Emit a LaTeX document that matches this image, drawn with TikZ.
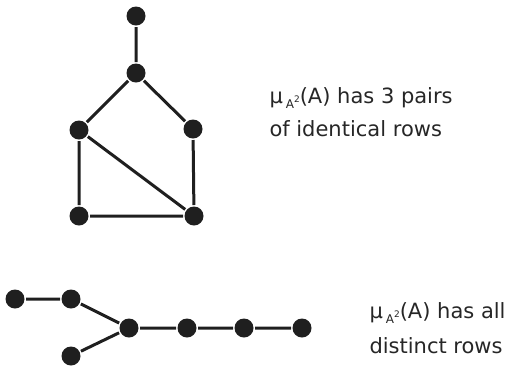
\documentclass[tikz,border=0pt]{standalone}
\usepackage{fontspec}
\setmainfont{DejaVu Sans}
\newcommand{\muAsq}{μ\hspace{3pt}\raisebox{-5pt}{\fontsize{12}{12}\selectfont A\raisebox{6pt}{\fontsize{9}{9}\selectfont 2}}}
\begin{document}
\begin{tikzpicture}[x=1pt,y=-1pt,line width=3pt,
  vtx/.style={circle,fill=black!88,inner sep=0pt,minimum size=19pt},
  txt/.style={anchor=base west,inner sep=0pt,font=\fontsize{21}{21}\selectfont,text=black!85}]
     \useasboundingbox (0,0) rectangle (506,368);
     % first graph
     \node[vtx] (a) at (136,16){};
     \node[vtx] (b) at (136,73){};
     \node[vtx] (c) at (79,130){};
     \node[vtx] (d) at (193,129){};
     \node[vtx] (e) at (79,216){};
     \node[vtx] (f) at (194,216){};
     \draw[black!88] (a) -- (b) (b) -- (c) (b) -- (d) (c) -- (e) (c) -- (f) (d) -- (f) (e) -- (f);
     \node[txt] (t1) at (268,103){\muAsq(A) has 3 pairs};
     \node[txt] (t2) at (268,136){of identical rows};
     % second graph
     \node[vtx] (g) at (15,299){};
     \node[vtx] (h) at (71,299){};
     \node[vtx] (i) at (129,328){};
     \node[vtx] (j) at (71,356){};
     \node[vtx] (k) at (187,328){};
     \node[vtx] (l) at (244,328){};
     \node[vtx] (m) at (302,328){};
     \draw[black!88] (g) -- (h) (h) -- (i) (j) -- (i) (i) -- (k) (k) -- (l) (l) -- (m);
     \node[txt] (t3) at (368,318){\muAsq(A) has all};
     \node[txt] (t4) at (368,353){distinct rows};
\end{tikzpicture}
\end{document}
